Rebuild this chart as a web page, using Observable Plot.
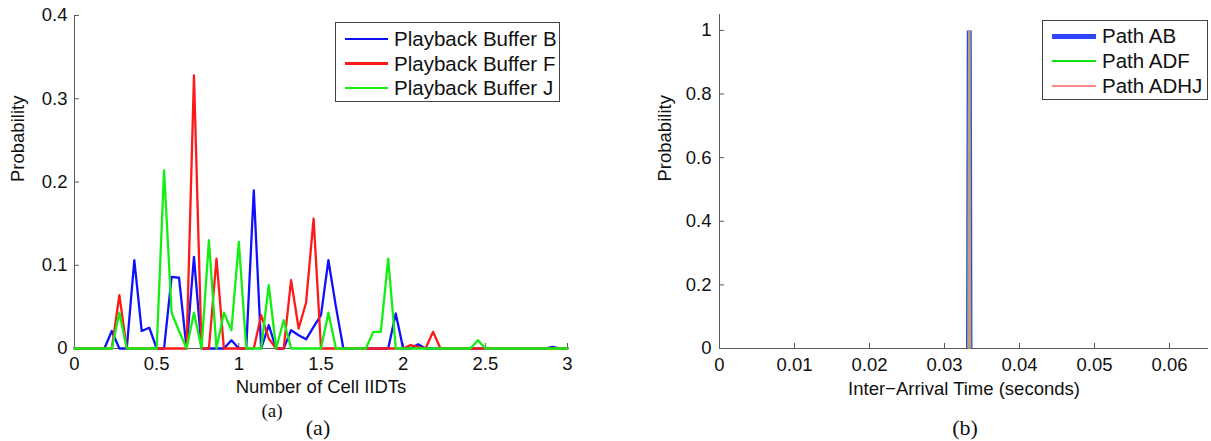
<!DOCTYPE html>
<html>
<head>
<meta charset="utf-8">
<script src="https://cdn.jsdelivr.net/npm/d3@7"></script>
<script src="https://cdn.jsdelivr.net/npm/@observablehq/plot@0.6"></script>
<style>
  body { margin: 0; background: #fff; }
  #wrap { position: relative; width: 1211px; height: 441px; overflow: hidden; background: #fff;
          font-family: "Liberation Sans", Arial, sans-serif; color: #111; }
  .plot { position: absolute; top: 0; }
  .legend { position: absolute; border: 1px solid #444; background: #fff; box-sizing: border-box; }
  .legend .ln { position: absolute; }
  .legend .tx { position: absolute; font-size: 20.5px; line-height: 1; transform: translateY(-50%); white-space: nowrap; }
  .cap { position: absolute; font-family: "Liberation Serif", "Times New Roman", serif; transform: translate(-50%, -50%); white-space: nowrap; line-height: 1; }
</style>
</head>
<body>
<div id="wrap"></div>
<script>
// ---------- Panel (a): probability vs number of cell IIDTs ----------
const iidtBins = [0, 0.045, 0.091, 0.136, 0.182, 0.227, 0.273, 0.318, 0.364, 0.409, 0.455, 0.5,
  0.545, 0.591, 0.636, 0.682, 0.727, 0.773, 0.818, 0.864, 0.909, 0.955, 1, 1.045, 1.091, 1.136,
  1.182, 1.227, 1.273, 1.318, 1.364, 1.409, 1.455, 1.5, 1.545, 1.591, 1.636, 1.682, 1.727, 1.773,
  1.818, 1.864, 1.909, 1.955, 2, 2.045, 2.091, 2.136, 2.182, 2.227, 2.273, 2.318, 2.364, 2.409,
  2.455, 2.5, 2.545, 2.591, 2.636, 2.682, 2.727, 2.773, 2.818, 2.864, 2.909, 2.955, 3];

const bufferB = [0, 0, 0, 0, 0, 0.021, 0, 0, 0.106, 0.021, 0.025, 0,
  0, 0.086, 0.085, 0, 0.11, 0, 0, 0, 0, 0.01, 0, 0, 0.19, 0,
  0.028, 0, 0, 0.022, 0.016, 0.011, 0.026, 0.04, 0.106, 0.05, 0, 0, 0, 0,
  0, 0, 0, 0.042, 0, 0, 0.005, 0, 0, 0, 0, 0, 0, 0,
  0, 0, 0, 0, 0, 0, 0, 0, 0, 0, 0.002, 0, 0];

const bufferF = [0, 0, 0, 0, 0, 0, 0.064, 0, 0, 0, 0, 0,
  0, 0, 0, 0, 0.328, 0, 0, 0.108, 0, 0, 0, 0, 0, 0.04,
  0.012, 0, 0, 0.082, 0.024, 0.055, 0.156, 0, 0, 0, 0, 0, 0, 0,
  0, 0, 0, 0, 0, 0.004, 0.002, 0, 0.02, 0, 0, 0, 0, 0,
  0, 0, 0, 0, 0, 0, 0, 0, 0, 0, 0, 0, 0];

const bufferJ = [0, 0, 0, 0, 0, 0, 0.043, 0, 0, 0, 0, 0,
  0.214, 0.043, 0.021, 0, 0.043, 0, 0.13, 0, 0.043, 0.022, 0.128, 0, 0, 0,
  0.076, 0, 0.034, 0, 0, 0, 0, 0, 0.043, 0, 0, 0, 0, 0,
  0.02, 0.02, 0.108, 0, 0, 0, 0, 0, 0, 0, 0, 0, 0, 0,
  0.01, 0, 0, 0, 0, 0, 0, 0, 0, 0, 0, 0, 0];

const seriesA = ["Playback Buffer B", "Playback Buffer F", "Playback Buffer J"];
const colorsA = ["#1010ff", "#ff1a1a", "#14ee14"];
const xTicksA = [0, 0.5, 1, 1.5, 2, 2.5, 3];
const yTicksA = [0, 0.1, 0.2, 0.3, 0.4];

// ---------- Panel (b): probability vs inter-arrival time ----------
const arrivalTime = [0.0332, 0.0333, 0.0334];
const pathAB   = [0, 1, 0];
const pathADF  = [0, 1, 0];
const pathADHJ = [0, 1, 0];
const seriesB = ["Path AB", "Path ADF", "Path ADHJ"];
const colorsB = ["#2f45ff", "#12e012", "#ff8a8a"];
const xTicksB = [0, 0.01, 0.02, 0.03, 0.04, 0.05, 0.06];
const yTicksB = [0, 0.2, 0.4, 0.6, 0.8, 1];

const FONT = "Liberation Sans, Arial, sans-serif";
const AXIS = "#5a5a5a";
const FS = 18.5;
const fmt = d => String(d);
const toRows = (xs, ys) => xs.map((x, i) => ({x, y: ys[i]}));

const plotA = Plot.plot({
  width: 600, height: 441,
  marginLeft: 74, marginRight: 33, marginTop: 15, marginBottom: 93,
  x: {domain: [0, 3]},
  y: {domain: [0, 0.4]},
  style: {fontFamily: FONT, fontSize: FS + "px", color: "#111", background: "transparent", overflow: "visible"},
  marks: [
    Plot.ruleX([0], {stroke: AXIS}),
    Plot.ruleY([0], {stroke: AXIS}),
    Plot.ruleX(xTicksA, {x: d => d, y1: 0, y2: 0.006, stroke: AXIS}),
    Plot.ruleY(yTicksA, {y: d => d, x1: 0, x2: 0.03, stroke: AXIS}),
    Plot.axisX(xTicksA, {tickSize: 0, tickPadding: 8, label: null, fontSize: FS, tickFormat: fmt}),
    Plot.axisY(yTicksA, {tickSize: 0, tickPadding: 7, label: null, fontSize: FS, tickFormat: fmt}),
    Plot.line(toRows(iidtBins, bufferB), {x: "x", y: "y", stroke: colorsA[0], strokeWidth: 2.3}),
    Plot.line(toRows(iidtBins, bufferF), {x: "x", y: "y", stroke: colorsA[1], strokeWidth: 2.3}),
    Plot.line(toRows(iidtBins, bufferJ), {x: "x", y: "y", stroke: colorsA[2], strokeWidth: 2.3}),
    Plot.text(["Probability"], {frameAnchor: "left", dx: -56, rotate: -90, fontSize: FS, fill: "#111"}),
    Plot.text(["Number of Cell IIDTs"], {frameAnchor: "bottom", dy: 44, fontSize: FS, fill: "#111"})
  ]
});

const plotB = Plot.plot({
  width: 611, height: 441,
  marginLeft: 119, marginRight: 3, marginTop: 14, marginBottom: 93,
  x: {domain: [0, 0.0652]},
  y: {domain: [0, 1.05]},
  style: {fontFamily: FONT, fontSize: FS + "px", color: "#111", background: "transparent", overflow: "visible"},
  marks: [
    Plot.ruleX([0], {stroke: AXIS}),
    Plot.ruleY([0], {stroke: AXIS}),
    Plot.ruleX(xTicksB, {x: d => d, y1: 0, y2: 0.016, stroke: AXIS}),
    Plot.ruleY(yTicksB, {y: d => d, x1: 0, x2: 0.00068, stroke: AXIS}),
    Plot.axisX(xTicksB, {tickSize: 0, tickPadding: 9, label: null, fontSize: FS, tickFormat: fmt}),
    Plot.axisY(yTicksB, {tickSize: 0, tickPadding: 8, label: null, fontSize: FS, tickFormat: fmt}),
    Plot.line(toRows(arrivalTime, pathAB),   {x: "x", y: "y", stroke: colorsB[0], strokeWidth: 5, strokeLinejoin: "miter", strokeLinecap: "butt"}),
    Plot.line(toRows(arrivalTime, pathADF),  {x: "x", y: "y", stroke: colorsB[1], strokeWidth: 2.4, strokeLinejoin: "miter", strokeLinecap: "butt"}),
    Plot.line(toRows(arrivalTime, pathADHJ), {x: "x", y: "y", stroke: colorsB[2], strokeWidth: 2.4, strokeOpacity: 0.75, strokeLinejoin: "miter", strokeLinecap: "butt"}),
    Plot.text(["Probability"], {frameAnchor: "left", dx: -54, rotate: -90, fontSize: FS, fill: "#111"}),
    Plot.text(["Inter\u2212Arrival Time (seconds)"], {frameAnchor: "bottom", dy: 46, fontSize: FS, fill: "#111"})
  ]
});

const wrap = document.getElementById("wrap");
plotA.classList.add("plot"); plotA.style.left = "0px";
plotB.classList.add("plot"); plotB.style.left = "600px";
wrap.appendChild(plotA);
wrap.appendChild(plotB);

function legend(names, colors, widths, box, rows, lineLeft, lineW, textLeft) {
  const el = document.createElement("div");
  el.className = "legend";
  Object.assign(el.style, {left: box[0] + "px", top: box[1] + "px", width: box[2] + "px", height: box[3] + "px"});
  names.forEach((n, i) => {
    const ln = document.createElement("div");
    ln.className = "ln";
    Object.assign(ln.style, {left: lineLeft + "px", width: lineW + "px", top: (rows[i] - widths[i] / 2) + "px",
      height: widths[i] + "px", background: colors[i]});
    const tx = document.createElement("div");
    tx.className = "tx";
    tx.textContent = n;
    Object.assign(tx.style, {left: textLeft + "px", top: rows[i] + "px"});
    el.appendChild(ln); el.appendChild(tx);
  });
  wrap.appendChild(el);
}
legend(seriesA, colorsA, [2.5, 2.5, 2.5], [335, 22, 225, 80], [16, 40.5, 65], 9, 43, 58);
legend(seriesB, colorsB, [5, 2.5, 2.5], [1042, 20, 166, 80], [15, 40, 65], 9, 44, 59);

function caption(text, x, y, size) {
  const c = document.createElement("div");
  c.className = "cap";
  c.textContent = text;
  Object.assign(c.style, {left: x + "px", top: y + "px", fontSize: size + "px"});
  wrap.appendChild(c);
}
caption("(a)", 272, 410, 19);
caption("(a)", 318, 428, 22);
caption("(b)", 965, 428, 22);
</script>
</body>
</html>
